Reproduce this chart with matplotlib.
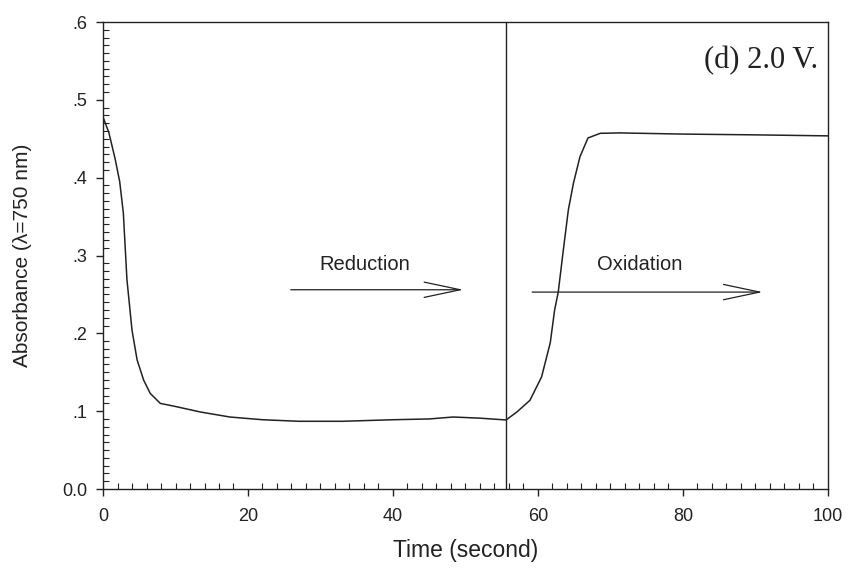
import matplotlib
matplotlib.use("Agg")
import matplotlib.pyplot as plt
from matplotlib.ticker import MultipleLocator, FixedLocator

# Data
time_s = [0, 0.8, 1.65, 2.3, 2.8, 3.3, 4.0, 4.7, 5.6, 6.5, 7.9, 10, 13.4, 17.5, 22, 27, 33, 40, 45,
          48.3, 52, 55.6,
          57.1, 58.9, 60.5, 61.7, 62.3, 62.8, 63.5, 64.2, 64.9, 65.8, 66.9, 68.6, 71.3,
          80, 90, 100]
absorb = [0.478, 0.458, 0.425, 0.395, 0.355, 0.269, 0.204, 0.166, 0.14, 0.123, 0.11, 0.106, 0.099,
          0.0925, 0.089, 0.087, 0.087, 0.089, 0.090, 0.0925, 0.091, 0.0887,
          0.099, 0.114, 0.144, 0.188, 0.23, 0.253, 0.307, 0.359, 0.393, 0.427, 0.451, 0.457, 0.4575,
          0.456, 0.455, 0.4537]

switch_time = 55.6
x_ticks = [0, 20, 40, 60, 80, 100]
x_labels = ["0", "20", "40", "60", "80", "100"]
y_ticks = [0.0, 0.1, 0.2, 0.3, 0.4, 0.5, 0.6]
y_labels = ["0.0", ".1", ".2", ".3", ".4", ".5", ".6"]

title_text = "(d) 2.0 V."
red_label = "Reduction"
ox_label = "Oxidation"
red_arrow = (25.9, 49.7, 0.256)
ox_arrow = (59.2, 91.0, 0.253)

plt.rcParams['font.family'] = ['Liberation Sans', 'DejaVu Sans']
fig = plt.figure(figsize=(8.5, 5.7), dpi=100)
ax = fig.add_axes([0.1212, 0.1421, 0.974 - 0.1212, 0.9614 - 0.1421])

col = '#222222'
ax.plot(time_s, absorb, color=col, lw=1.1)
ax.axvline(switch_time, color=col, lw=1.0)

ax.set_xlim(0, 100)
ax.set_ylim(0, 0.6)
ax.xaxis.set_major_locator(FixedLocator(x_ticks))
ax.set_xticklabels(x_labels)
ax.yaxis.set_major_locator(FixedLocator(y_ticks))
ax.set_yticklabels(y_labels)
ax.xaxis.set_minor_locator(MultipleLocator(2))
ax.yaxis.set_minor_locator(MultipleLocator(0.01))
ax.tick_params(which='major', direction='out', length=5, width=1.0, colors=col,
               labelsize=13, labelcolor='#222222')
ax.tick_params(which='minor', direction='in', length=4, width=0.8, colors=col)
ax.tick_params(axis='x', which='major', pad=9)
ax.tick_params(axis='y', which='major', pad=6)
for s in ax.spines.values():
    s.set_color(col)
    s.set_linewidth(1.0)

ax.set_xlabel("Time (second)", fontsize=16.5, color='#222222', labelpad=10)
ax.set_ylabel("Absorbance (λ=750 nm)", fontsize=15, color='#222222', labelpad=22)

ax.text(98.6, 0.551, title_text, family=['Liberation Serif', 'DejaVu Serif'],
        fontsize=22, ha='right', va='center', color='#222222')

ax.text(29.9, 0.288, red_label, fontsize=14.5, ha='left', va='center', color='#222222')
ax.text(68.1, 0.288, ox_label, fontsize=14.5, ha='left', va='center', color='#222222')

arrowprops = dict(arrowstyle='->,head_length=2.6,head_width=0.55', mutation_scale=10,
                  color=col, lw=0.9, shrinkA=0, shrinkB=0)
ax.annotate('', xy=(red_arrow[1], red_arrow[2]), xytext=(red_arrow[0], red_arrow[2]), arrowprops=arrowprops)
ax.annotate('', xy=(ox_arrow[1], ox_arrow[2]), xytext=(ox_arrow[0], ox_arrow[2]), arrowprops=arrowprops)

fig.savefig("out.png", dpi=100)
